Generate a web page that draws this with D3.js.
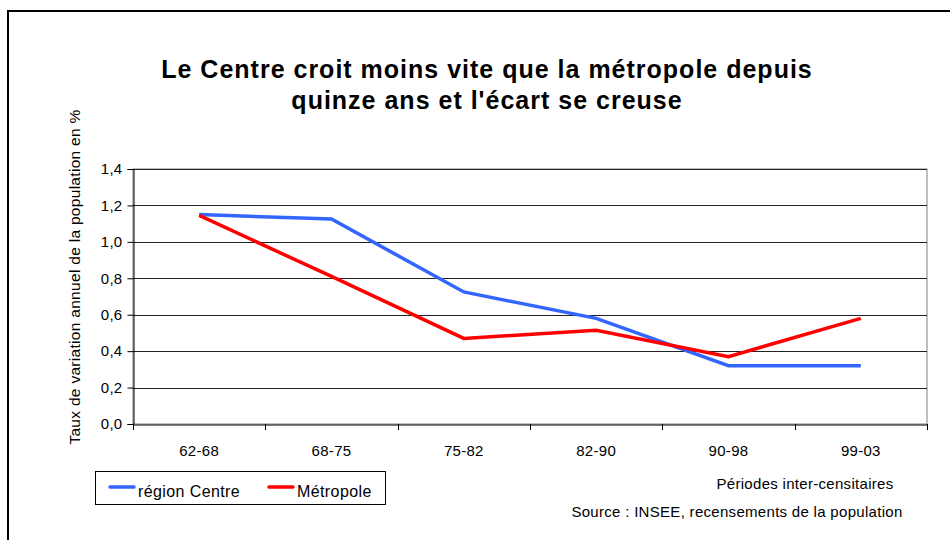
<!DOCTYPE html>
<html><head><meta charset="utf-8">
<script src="https://cdn.jsdelivr.net/npm/d3@7"></script>
<style>body{margin:0;background:#fff}svg{display:block;font-family:"Liberation Sans",Arial,sans-serif}</style>
</head><body>
<svg id="c" width="950" height="540"></svg>
<script>
const categories = ["62-68","68-75","75-82","82-90","90-98","99-03"];
const regionCentre = [1.15, 1.125, 0.725, 0.58, 0.32, 0.32];
const metropole = [1.145, 0.81, 0.47, 0.515, 0.37, 0.58];
const yTicks = [0,0.2,0.4,0.6,0.8,1.0,1.2,1.4];
const seriesNames = ["région Centre","Métropole"];
const seriesColors = ["#3366ff","#ff0000"];

const svg = d3.select("#c");
svg.append("rect").attr("x",8).attr("y",11).attr("width",1000).attr("height",600)
  .attr("fill","#fff").attr("stroke","#000").attr("stroke-width",2);

const L=133,R=927,T=169,B=424;
const x = d3.scaleBand().domain(categories).range([L,R]);
const y = d3.scaleLinear().domain([0,1.4]).range([B,T]);
const fmt = d => d.toFixed(1).replace(".",",");
const FF = "Liberation Sans, Arial, sans-serif";

// title
svg.append("text").attr("x",487).attr("y",78).attr("text-anchor","middle")
  .attr("font-size",25).attr("letter-spacing",1).attr("font-weight","bold").text("Le Centre croit moins vite que la métropole depuis");
svg.append("text").attr("x",487).attr("y",109).attr("text-anchor","middle")
  .attr("font-size",25).attr("letter-spacing",1).attr("font-weight","bold").text("quinze ans et l'écart se creuse");

// plot border (gray)
svg.append("rect").attr("x",L).attr("y",T).attr("width",R-L).attr("height",B-T)
  .attr("fill","none").attr("stroke","#808080").attr("stroke-width",1);

// gridlines
svg.append("g").selectAll("line").data(yTicks.filter(d=>d>0)).join("line")
  .attr("x1",L).attr("x2",R).attr("y1",d=>Math.round(y(d))+0.5).attr("y2",d=>Math.round(y(d))+0.5)
  .attr("stroke","#222").attr("stroke-width",1);

// y axis
const ya = svg.append("g").attr("transform",`translate(${L+0.5},0)`)
  .call(d3.axisLeft(y).tickValues(yTicks).tickFormat(fmt).tickSize(6).tickPadding(5));
ya.select(".domain").attr("stroke","#000");
ya.selectAll(".tick line").attr("stroke","#000");
ya.selectAll("text").attr("font-size",15).attr("letter-spacing",0.3).attr("fill","#000").attr("font-family",FF);

// x axis
const xa = svg.append("g").attr("transform",`translate(0,${B+0.5})`)
  .call(d3.axisBottom(x).tickSize(0).tickPadding(21));
xa.select(".domain").attr("stroke","#000");
xa.selectAll("text").attr("font-size",15).attr("letter-spacing",0.3).attr("fill","#000").attr("font-family",FF);
const bounds = categories.map(c=>x(c)).concat([R]);
svg.append("g").selectAll("line").data(bounds).join("line")
  .attr("x1",d=>Math.round(d)+0.5).attr("x2",d=>Math.round(d)+0.5).attr("y1",B).attr("y2",B+6)
  .attr("stroke","#000");

// lines
const line = d3.line().x((d,i)=>x(categories[i])+x.bandwidth()/2).y(d=>y(d));
[regionCentre, metropole].forEach((s,i)=>{
  svg.append("path").datum(s).attr("d",line).attr("fill","none")
    .attr("stroke",seriesColors[i]).attr("stroke-width",3.5).attr("stroke-linejoin","miter");
});

// y label
svg.append("text").attr("transform","translate(80,277) rotate(-90)").attr("text-anchor","middle")
  .attr("font-size",15.5).attr("letter-spacing",0.3).text("Taux de variation annuel de la population en %");

// x title & source
svg.append("text").attr("x",805).attr("y",489).attr("text-anchor","middle").attr("font-size",15).attr("letter-spacing",0.3)
  .text("Périodes inter-censitaires");
svg.append("text").attr("x",737).attr("y",517).attr("text-anchor","middle").attr("font-size",15).attr("letter-spacing",0.3)
  .text("Source : INSEE, recensements de la population");

// legend
svg.append("rect").attr("x",95.5).attr("y",471.5).attr("width",290).attr("height",33)
  .attr("fill","#fff").attr("stroke","#000").attr("stroke-width",1);
const lx=[110,269];
seriesNames.forEach((n,i)=>{
  svg.append("line").attr("x1",lx[i]).attr("x2",lx[i]+24).attr("y1",487).attr("y2",487)
    .attr("stroke",seriesColors[i]).attr("stroke-width",3.5).attr("stroke-linecap","round");
  svg.append("text").attr("x",lx[i]+28).attr("y",497).attr("font-size",16).attr("letter-spacing",0.4).text(n);
});
</script>
</body></html>
